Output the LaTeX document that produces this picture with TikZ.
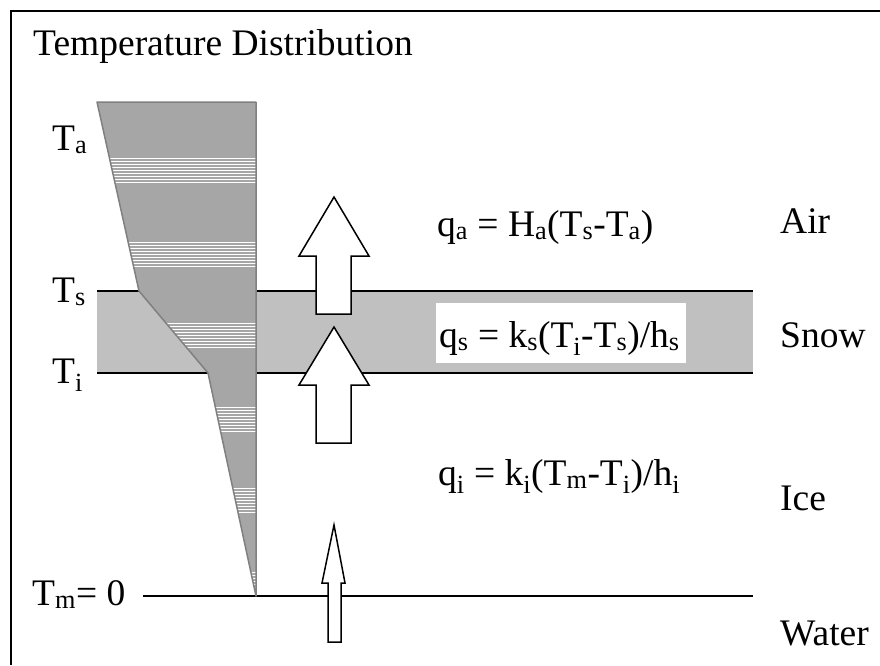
\documentclass[tikz,border=0pt]{standalone}
\usepackage{fontspec}
\setmainfont{Liberation Serif}
\usetikzlibrary{positioning}
\definecolor{profgray}{HTML}{A6A6A6}
\definecolor{snowgray}{HTML}{C0C0C0}
\definecolor{edgegray}{HTML}{808080}

\begin{document}
\begin{tikzpicture}[x=1pt, y=-1pt,
  lbl/.style={anchor=base west, inner sep=0pt, font=\fontsize{37.5}{42}\selectfont},
  layerline/.style={line width=2.5pt},
  heat/.style={draw=black, fill=white, line width=1.5pt, line join=miter},
  profile/.style={fill=profgray, draw=edgegray, line width=1.5pt}
]
\useasboundingbox (0,0) rectangle (880,665);

% frame (left and top only)
\draw[line width=2pt] (11,665) -- (11,11) -- (880,11);

% snow layer
\fill[snowgray] (97,291) rectangle (753,373);
\fill[white] (436,303) rectangle (686,363);

% layer boundaries
\draw[layerline] (97,291) -- (753,291);
\draw[layerline] (97,373) -- (753,373);
\draw[layerline] (143,596) -- (753,596);

% temperature profile
\fill[profgray] (97,102) -- (256,102) -- (256,596) -- (208,373) -- (139,291) -- cycle;
\begin{scope}
  \clip (97,102) -- (256,102) -- (256,596) -- (208,373) -- (139,291) -- cycle;
  \foreach \y in {158,242,323,407,488,572}
    \foreach \k in {0,...,8}
      \draw[white, line width=1pt] (90,\y+3*\k) -- (256,\y+3*\k);
\end{scope}
\draw[draw=edgegray, line width=1.5pt, line join=round]
  (97,102) -- (256,102) -- (256,596) -- (208,373) -- (139,291) -- cycle;

% heat flux arrows
\draw[heat] (316,314) -- (316,256) -- (299,256) -- (334,197) -- (369,256) -- (351,256) -- (351,314) -- cycle;
\draw[heat] (316,443) -- (316,385) -- (299,385) -- (334,327) -- (369,385) -- (351,385) -- (351,443) -- cycle;
\draw[heat] (328,642) -- (328,583) -- (322,583) -- (334,525) -- (345,583) -- (341,583) -- (341,642) -- cycle;

% labels
\node[lbl] (title) at (33,55) {Temperature Distribution};
\node[lbl] (Ta) at (52,150) {T\textsubscript{a}};
\node[lbl] (Ts) at (52,302) {T\textsubscript{s}};
\node[lbl] (Ti) at (52,383) {T\textsubscript{i}};
\node[lbl] (Tm) at (32,605) {T\textsubscript{m}= 0};

\node[lbl] (qa) at (437,236) {q\textsubscript{a} = H\textsubscript{a}(T\textsubscript{s}-T\textsubscript{a})};
\node[lbl] (qs) at (439,347) {q\textsubscript{s} = k\textsubscript{s}(T\textsubscript{i}-T\textsubscript{s})/h\textsubscript{s}};
\node[lbl] (qi) at (438,485) {q\textsubscript{i} = k\textsubscript{i}(T\textsubscript{m}-T\textsubscript{i})/h\textsubscript{i}};

\node[lbl] (air) at (780,233) {Air};
\node[lbl] (snow) at (780,347) {Snow};
\node[lbl] (ice) at (780,510) {Ice};
\node[lbl] (water) at (780,645) {Water};

\end{tikzpicture}
\end{document}
